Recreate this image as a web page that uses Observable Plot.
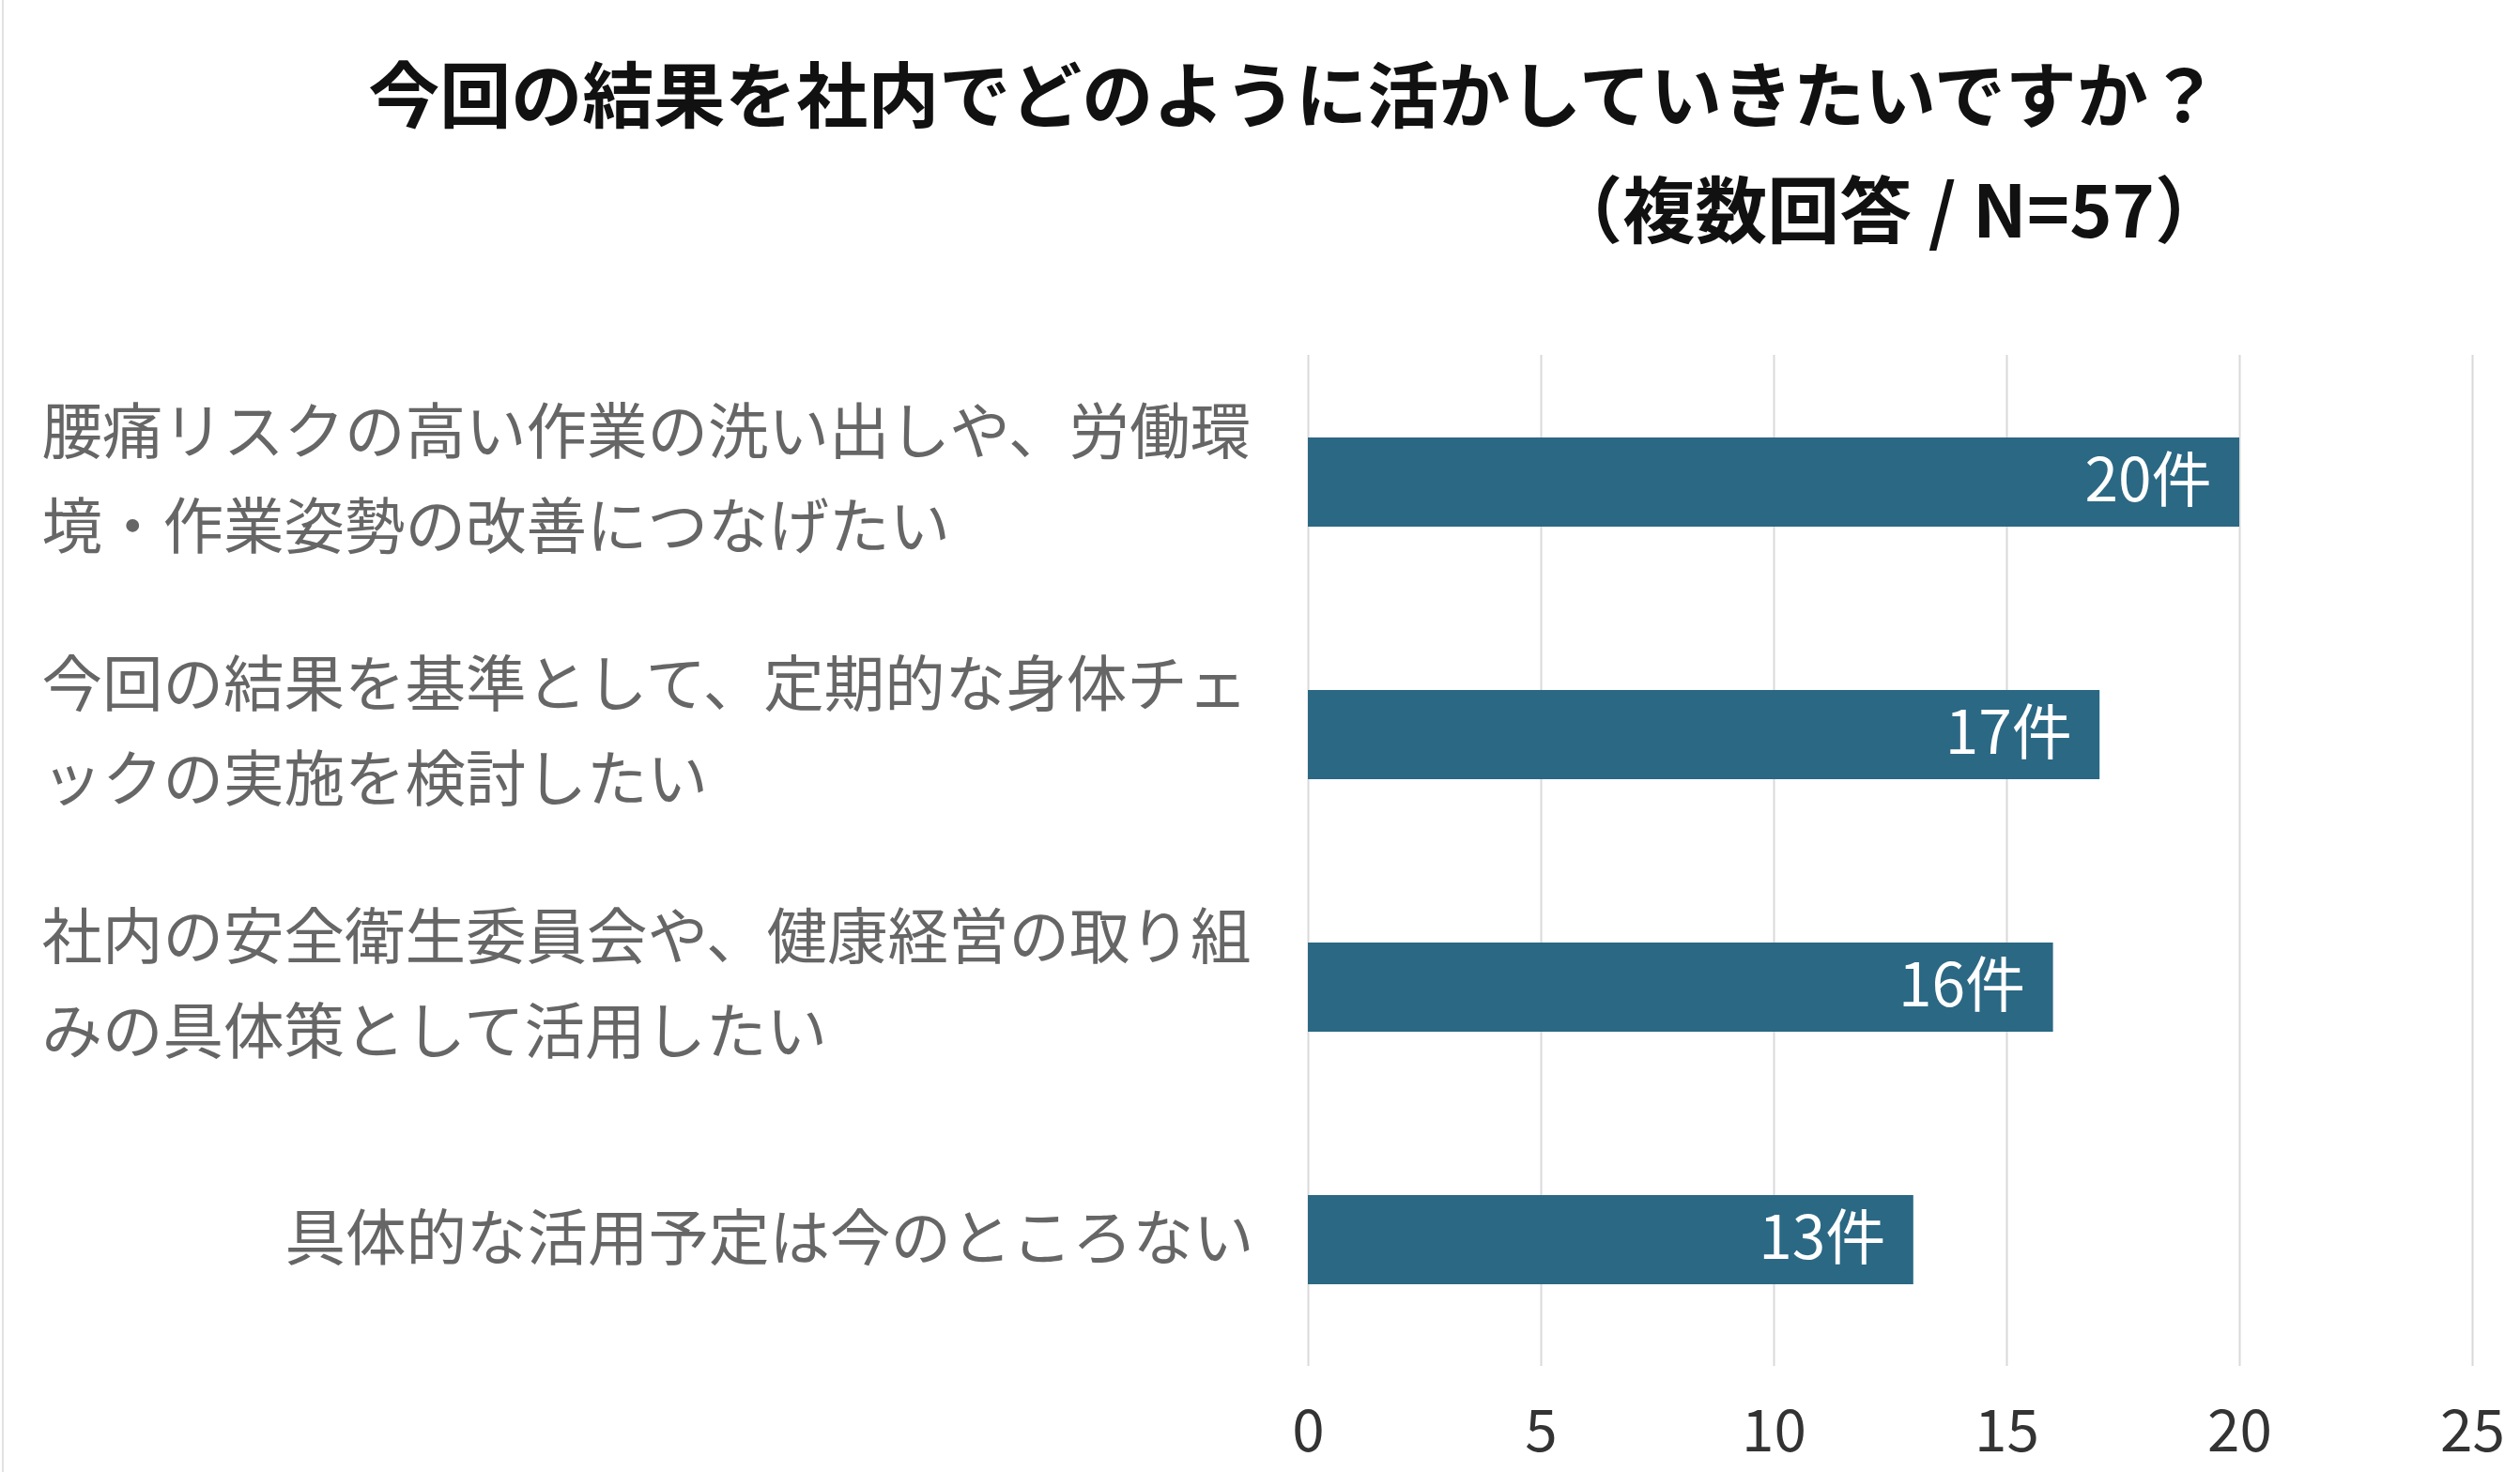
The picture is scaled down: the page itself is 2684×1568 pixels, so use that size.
<!DOCTYPE html>
<html>
<head>
<meta charset="utf-8">
<script src="https://cdn.jsdelivr.net/npm/d3@7"></script>
<script src="https://cdn.jsdelivr.net/npm/@observablehq/plot@0.6"></script>
<style>
  html, body { margin: 0; padding: 0; background: #fff; }
  body { position: relative; width: 2684px; height: 1568px; overflow: hidden; font-family: "Noto Sans CJK JP", "Noto Sans", sans-serif; }
  #edge { position: absolute; left: 2px; top: 0; width: 2px; height: 1568px; background: #e2e2e2; }
  #title { box-sizing: border-box; height: 162px; padding-top: 32px; padding-left: 72px; line-height: 130px; text-align: center; font-size: 76px; font-weight: 700; color: #111; }
  #subtitle { box-sizing: border-box; height: 113px; padding-top: 8px; padding-right: 312px; line-height: 100px; text-align: right; font-size: 77px; font-weight: 700; color: #111; }
  #chart svg { display: block; font-family: "Noto Sans CJK JP", "Noto Sans", sans-serif; }
</style>
</head>
<body>
<div id="edge"></div>
<div id="title"></div>
<div id="subtitle"></div>
<div id="chart"></div>
<script>
const titleText = "今回の結果を社内でどのように活かしていきたいですか？";
const subtitleText = "（複数回答 / N=57）";
const categories = [
  "腰痛リスクの高い作業の洗い出しや、労働環\n境・作業姿勢の改善につなげたい",
  "今回の結果を基準として、定期的な身体チェ\nックの実施を検討したい",
  "社内の安全衛生委員会や、健康経営の取り組\nみの具体策として活用したい",
  "具体的な活用予定は今のところない"
];
const counts = [20, 17, 16, 13];
const unit = "件";
const xTicks = [0, 5, 10, 15, 20, 25];

document.getElementById("title").textContent = titleText;
document.getElementById("subtitle").textContent = subtitleText;

const data = categories.map((c, i) => ({label: c, count: counts[i]}));
const multi = data.filter(d => d.label.includes("\n"));
const single = data.filter(d => !d.label.includes("\n"));

const marginLeft = 1393;
const chart = Plot.plot({
  width: 2684,
  height: 1293,
  marginTop: 103,
  marginBottom: 113,
  marginLeft: marginLeft,
  marginRight: 51,
  x: {domain: [0, 25], axis: null, label: null},
  y: {domain: categories, paddingInner: 0.647, paddingOuter: 0.3235, axis: null, label: null},
  marks: [
    Plot.gridX(xTicks, {stroke: "#d9d9d9", strokeOpacity: 1, strokeWidth: 2}),
    Plot.barX(data, {x: "count", y: "label", fill: "#2b6884"}),
    Plot.text(data, {x: "count", y: "label", text: d => d.count + unit, textAnchor: "end", dx: -30, fill: "#ffffff", fontSize: 64}),
    Plot.axisX(xTicks, {tickSize: 0, tickPadding: 46, fontSize: 62, color: "#333333", label: null}),
    Plot.text(multi, {y: "label", text: "label", frameAnchor: "left", textAnchor: "start", dx: -(marginLeft - 44), dy: -13, lineHeight: 1.5625, fill: "#666666", fontSize: 64.5}),
    Plot.text(single, {y: "label", text: "label", frameAnchor: "left", textAnchor: "end", dx: -58, fill: "#666666", fontSize: 64.5})
  ]
});
document.getElementById("chart").appendChild(chart);
</script>
</body>
</html>
